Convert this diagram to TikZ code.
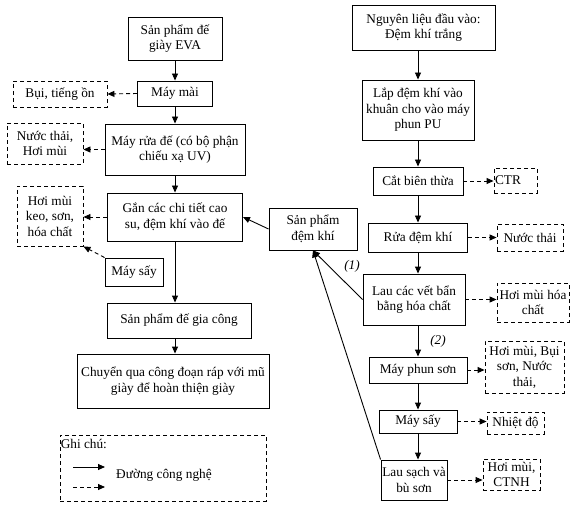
\documentclass[tikz,border=0pt]{standalone}
\usepackage{fontspec}
\setmainfont{Liberation Serif}
\usetikzlibrary{arrows.meta,calc}

\begin{document}
\begin{tikzpicture}[x=1pt, y=-1pt,
    font=\fontsize{13.3}{15.5}\selectfont,
    box/.style={draw, line width=0.9pt, align=center, inner sep=1pt},
    wbox/.style={box, dash pattern=on 4pt off 3pt},
    arr/.style={-{Triangle[length=7pt,width=6pt]}, line width=0.9pt},
    darr/.style={arr, dash pattern=on 4pt off 3pt}
]
\useasboundingbox (0,0) rectangle (577,510);

% left column
\node[box, minimum width=94pt, minimum height=43pt] (eva) at (175,38.5) {Sản phẩm đế\\giày EVA};
\node[box, minimum width=75pt, minimum height=25pt] (mai) at (175,93.5) {Máy mài};
\node[wbox, minimum width=94pt, minimum height=26pt] (bui) at (60,94) {Bụi, tiếng ồn};
\node[box, minimum width=140pt, minimum height=51pt] (rua) at (175,149.5) {Máy rửa đế (có bộ phận\\chiếu xạ UV)};
\node[wbox, minimum width=76pt, minimum height=41pt] (nuoc1) at (45,143.5) {Nước thải,\\Hơi mùi};
\node[box, minimum width=135pt, minimum height=48pt] (gan) at (175,217) {Gắn các chi tiết cao\\su, đệm khí vào đế};
\node[wbox, minimum width=66pt, minimum height=60pt] (keo) at (50,216) {Hơi mùi\\keo, sơn,\\hóa chất};
\node[box, minimum width=58pt, minimum height=28pt] (saytrai) at (134,272) {Máy sấy};
\node[box, minimum width=144pt, minimum height=35pt] (giacong) at (179,320.5) {Sản phẩm đế gia công};
\node[box, minimum width=192pt, minimum height=54pt] (chuyen) at (173,381) {Chuyển qua công đoạn ráp với mũ\\giày để hoàn thiện giày};

% right column
\node[box, minimum width=143pt, minimum height=45pt] (nl) at (423.5,27.5) {Nguyên liệu đầu vào:\\Đệm khí trắng};
\node[box, minimum width=112pt, minimum height=60pt] (lap) at (418,110) {Lắp đệm khí vào\\khuân cho vào máy\\phun PU};
\node[box, minimum width=90pt, minimum height=28pt] (cat) at (418,181) {Cắt biên thừa};
\node[wbox, minimum width=43pt, minimum height=25pt, text width=41pt, align=left] (ctr) at (515.5,180.5) {CTR};
\node[box, minimum width=99pt, minimum height=29pt] (ruadk) at (418,237.5) {Rửa đệm khí};
\node[wbox, minimum width=66pt, minimum height=27pt] (nuoc2) at (530,237.5) {Nước thải};
\node[box, minimum width=102pt, minimum height=51pt] (lau) at (414,299.5) {Lau các vết bẩn\\bằng hóa chất};
\node[wbox, minimum width=72pt, minimum height=39pt] (hoachat) at (533,302.5) {Hơi mùi hóa\\chất};
\node[box, minimum width=98pt, minimum height=26pt] (phun) at (418,370) {Máy phun sơn};
\node[wbox, minimum width=79pt, minimum height=52pt] (buison) at (524.5,367) {Hơi mùi, Bụi\\sơn, Nước\\thải,};
\node[box, minimum width=78pt, minimum height=23pt] (say) at (418,421.5) {Máy sấy};
\node[wbox, minimum width=57pt, minimum height=22pt] (nhiet) at (515.5,423) {Nhiệt độ};
\node[box, minimum width=66pt, minimum height=40pt] (bu) at (414,480) {Lau sạch và\\bù sơn};
\node[wbox, minimum width=57pt, minimum height=31pt] (ctnh) at (511.5,474.5) {Hơi mùi,\\CTNH};
\node[box, minimum width=88pt, minimum height=42pt] (dk) at (313,229) {Sản phẩm\\đệm khí};
\node (lb1) at (352,266) {\textit{(1)}};
\node (lb2) at (438,341) {\textit{(2)}};

% legend
\node[wbox, minimum width=206pt, minimum height=66pt] (legend) at (163,468) {};
\node[anchor=north west, inner sep=1pt, yshift=-3pt] (ghichu) at (legend.north west) {Ghi chú:};
\coordinate (l1a) at (73,467);
\coordinate (l1b) at (105,467);
\coordinate (l2a) at (73,487);
\coordinate (l2b) at (105,487);
\node[anchor=west, inner sep=0pt] (duong) at (116,475) {Đường công nghệ};

% main flow
\draw[arr] (eva) -- (mai);
\draw[arr] (mai) -- (rua);
\draw[arr] (rua) -- (gan);
\draw[arr] (gan.south) -- (gan.south |- giacong.north);
\draw[arr] (gan.south |- giacong.south) -- (gan.south |- chuyen.north);
\draw[arr] (dk.west) -- (gan.east);
\draw[arr] (lap.north |- nl.south) -- (lap.north);
\draw[arr] (lap) -- (cat);
\draw[arr] (cat) -- (ruadk);
\draw[arr] (ruadk.south) -- (ruadk.south |- lau.north);
\draw[arr] (ruadk.south |- lau.south) -- (phun.north);
\draw[arr] (phun) -- (say);
\draw[arr] (say.south) -- (say.south |- bu.north);
\draw[arr] (lau.west) -- (dk.south);
\draw[arr] (bu.north west) -- (dk.south);

% waste
\draw[darr] (mai.west) -- (bui.east);
\draw[darr] (rua.west) -- (rua.west -| nuoc1.east);
\draw[darr] (gan.west) -- (gan.west -| keo.east);
\draw[darr] (saytrai.north west) -- (keo.south east);
\draw[darr] (cat.east) -- (cat.east -| ctr.west);
\draw[darr] (ruadk) -- (nuoc2);
\draw[darr] (lau.east) -- (lau.east -| hoachat.west);
\draw[darr] (phun.east) -- (phun.east -| buison.west);
\draw[darr] (say.east) -- (say.east -| nhiet.west);
\draw[darr] (bu.east) -- (bu.east -| ctnh.west);

\draw[arr] (l1a) -- (l1b);
\draw[darr] (l2a) -- (l2b);
\end{tikzpicture}
\end{document}
